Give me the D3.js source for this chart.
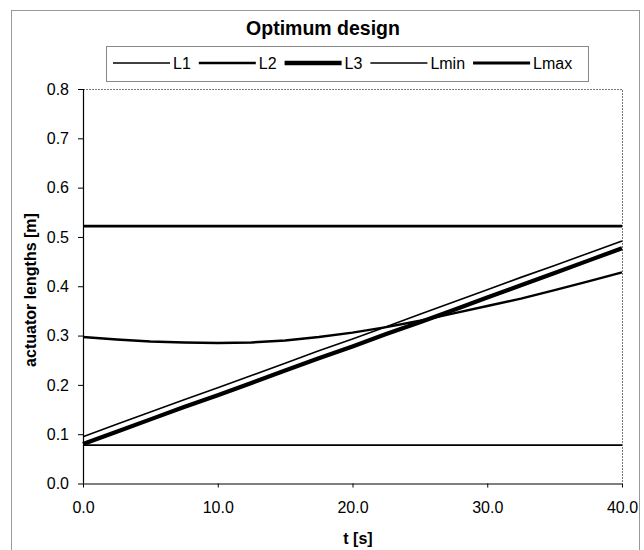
<!DOCTYPE html>
<html>
<head>
<meta charset="utf-8">
<script src="https://cdn.jsdelivr.net/npm/d3@7"></script>
<style>
  html, body { margin: 0; padding: 0; background: #fff; }
  svg { display: block; }
  text { font-family: "Liberation Sans", Arial, sans-serif; fill: #000; }
</style>
</head>
<body>
<svg id="chart" width="644" height="550"></svg>
<script>
// ---- data ----
const title = "Optimum design";
const xLabel = "t [s]";
const yLabel = "actuator lengths [m]";
const timeS = [0, 2.5, 5, 7.5, 10, 12.5, 15, 17.5, 20, 22.5, 25, 27.5, 30, 32.5, 35, 37.5, 40];
const L1 = [0.095, 0.120, 0.145, 0.170, 0.194, 0.219, 0.244, 0.269, 0.293, 0.318, 0.343, 0.368, 0.393, 0.418, 0.442, 0.467, 0.492];
const L2 = [0.297, 0.292, 0.288, 0.286, 0.285, 0.286, 0.290, 0.297, 0.306, 0.317, 0.330, 0.345, 0.360, 0.375, 0.392, 0.410, 0.428];
const L3 = [0.080, 0.105, 0.130, 0.155, 0.179, 0.204, 0.229, 0.254, 0.278, 0.303, 0.327, 0.352, 0.377, 0.402, 0.427, 0.452, 0.477];
const Lmin = [0.078, 0.078, 0.078, 0.078, 0.078, 0.078, 0.078, 0.078, 0.078, 0.078, 0.078, 0.078, 0.078, 0.078, 0.078, 0.078, 0.078];
const Lmax = [0.522, 0.522, 0.522, 0.522, 0.522, 0.522, 0.522, 0.522, 0.522, 0.522, 0.522, 0.522, 0.522, 0.522, 0.522, 0.522, 0.522];
const seriesNames = ["L1", "L2", "L3", "Lmin", "Lmax"];
const xTicks = [0, 10, 20, 30, 40];
const yTicks = [0, 0.1, 0.2, 0.3, 0.4, 0.5, 0.6, 0.7, 0.8];

// ---- build ----
const seriesValues = [L1, L2, L3, Lmin, Lmax];
const widths = { L1: 1.6, L2: 2.4, L3: 4.2, Lmin: 1.8, Lmax: 2.6 };
const legendWidths = { L1: 1.4, L2: 2.4, L3: 4.5, Lmin: 1.4, Lmax: 2.8 };

const svg = d3.select("#chart");
const plot = { left: 83, right: 622, top: 89, bottom: 483.5 };

// outer border
svg.append("rect").attr("x", 11.5).attr("y", 10.5).attr("width", 628).attr("height", 545)
  .attr("fill", "none").attr("stroke", "#999").attr("stroke-width", 1);

const x = d3.scaleLinear().domain([0, 40]).range([plot.left, plot.right]);
const y = d3.scaleLinear().domain([0, 0.8]).range([plot.bottom, plot.top]);

// plot frame (top & right dotted grey)
svg.append("path")
  .attr("d", `M${plot.left},${plot.top + 0.5}H${plot.right + 0.5}V${plot.bottom}`)
  .attr("fill", "none").attr("stroke", "#777").attr("stroke-width", 1).attr("stroke-dasharray", "2,1");

// title
svg.append("text").attr("x", 323).attr("y", 35).attr("text-anchor", "middle")
  .style("font-weight", "bold").style("font-size", "19.5px").text(title);

// axes
const xAxis = d3.axisBottom(x).tickValues(xTicks).tickFormat(d3.format(".1f")).tickSize(4).tickPadding(14);
const gx = svg.append("g").attr("transform", `translate(0,${plot.bottom})`).call(xAxis);
const yAxis = d3.axisLeft(y).tickValues(yTicks).tickFormat(d3.format(".1f")).tickSize(5).tickPadding(9);
const gy = svg.append("g").attr("transform", `translate(${plot.left},0)`).call(yAxis);
[gx, gy].forEach(g => {
  g.selectAll("text").style("font-size", "16px").style("font-family", "'Liberation Sans', Arial, sans-serif");
  g.select(".domain").attr("stroke", "#000").attr("stroke-width", 1.2);
  g.selectAll(".tick line").attr("stroke", "#000");
});
gy.select(".domain").attr("d", `M0.5,${plot.top}V${plot.bottom}`);
gx.select(".domain").attr("d", `M${plot.left},0.5H${plot.right}`);

// axis labels
svg.append("text").attr("x", 358).attr("y", 544).attr("text-anchor", "middle")
  .style("font-weight", "bold").style("font-size", "16px").text(xLabel);
svg.append("text").attr("transform", "translate(36,290) rotate(-90)").attr("text-anchor", "middle")
  .style("font-weight", "bold").style("font-size", "16px").text(yLabel);

// lines
const line = d3.line().x((d, i) => x(timeS[i])).y(d => y(d));
const order = ["Lmin", "Lmax", "L2", "L3", "L1"];
order.forEach(name => {
  const vals = seriesValues[seriesNames.indexOf(name)];
  svg.append("path").datum(vals).attr("d", line)
    .attr("fill", "none").attr("stroke", "#000").attr("stroke-width", widths[name])
    .attr("stroke-linejoin", "round");
});

// legend
const lg = svg.append("g");
const legY = 63;
let cx = 113;
seriesNames.forEach(name => {
  lg.append("line").attr("x1", cx).attr("x2", cx + 57).attr("y1", legY).attr("y2", legY)
    .attr("stroke", "#000").attr("stroke-width", legendWidths[name]);
  const t = lg.append("text").attr("x", cx + 60).attr("y", legY + 6)
    .style("font-size", "16px").text(name);
  cx += 60 + t.node().getComputedTextLength() + 8;
});
lg.insert("rect", ":first-child").attr("x", 106.5).attr("y", 46.5).attr("width", 482).attr("height", 35)
  .attr("fill", "#fff").attr("stroke", "#888").attr("stroke-width", 1);
</script>
</body>
</html>
